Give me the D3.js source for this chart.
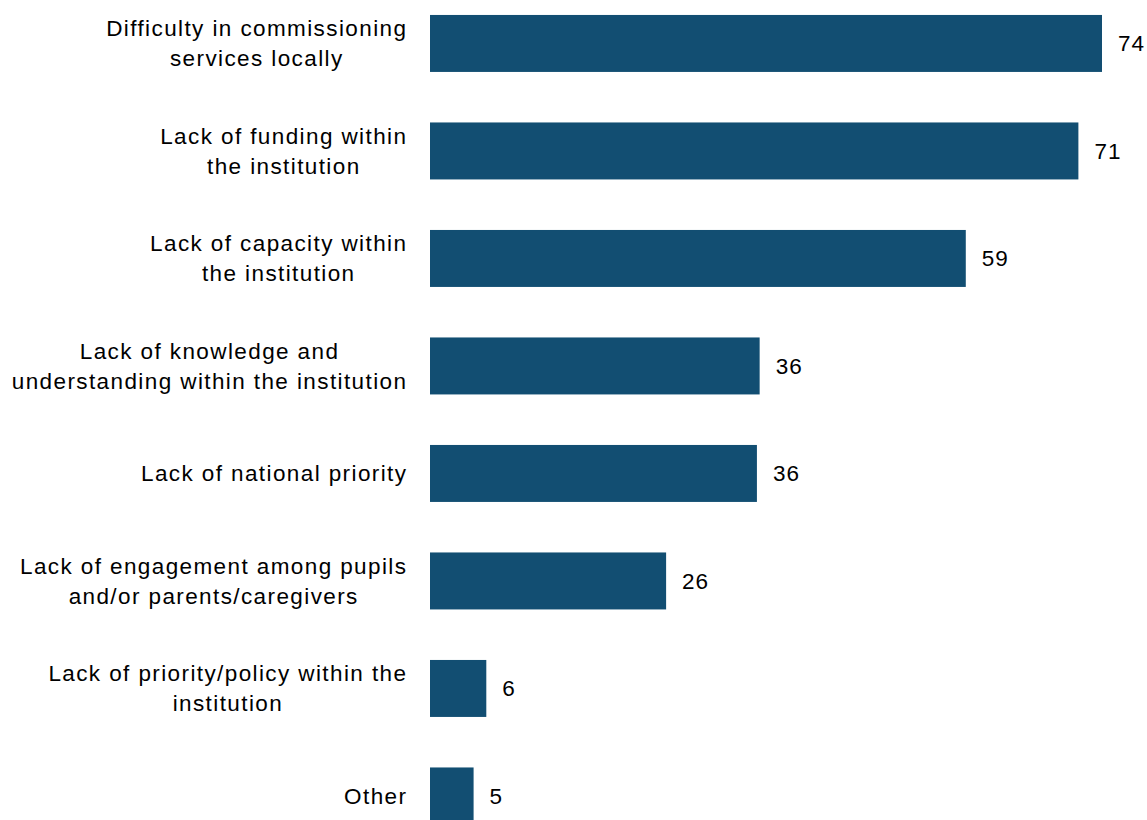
<!DOCTYPE html>
<html>
<head>
<meta charset="utf-8">
<script src="https://cdn.jsdelivr.net/npm/d3@7"></script>
<style>
  html, body { margin: 0; padding: 0; background: #fff; }
  svg { display: block; }
  text { font-family: "Liberation Sans", Arial, sans-serif; fill: #000; }
</style>
</head>
<body>
<svg id="chart" width="1147" height="820"></svg>
<script>
const categories = [
  "Difficulty in commissioning services locally",
  "Lack of funding within the institution",
  "Lack of capacity within the institution",
  "Lack of knowledge and understanding within the institution",
  "Lack of national priority",
  "Lack of engagement among pupils and/or parents/caregivers",
  "Lack of priority/policy within the institution",
  "Other"
];
const categoryLines = [
  ["Difficulty in commissioning", "services locally"],
  ["Lack of funding within", "the institution"],
  ["Lack of capacity within", "the institution"],
  ["Lack of knowledge and", "understanding within the institution"],
  ["Lack of national priority"],
  ["Lack of engagement among pupils", "and/or parents/caregivers"],
  ["Lack of priority/policy within the", "institution"],
  ["Other"]
];
const values = [74, 71.4, 59, 36.3, 36, 26, 6.2, 4.8];

const W = 1147, H = 820;
const svg = d3.select("#chart");
const fontSize = 22.5;
const letterSp = 1.4;
const lineH = 30;
const barColor = "#124e72";

const x = d3.scaleLinear().domain([0, 74]).range([430, 1102]);
const y = d3.scaleBand().domain(categories).range([-10.3, 849.7])
  .paddingInner(0.47).paddingOuter(0.235);

const data = categories.map((c, i) => ({ c, v: values[i], lines: categoryLines[i] }));

svg.selectAll("rect.bar").data(data).join("rect")
  .attr("class", "bar")
  .attr("x", x(0))
  .attr("y", d => y(d.c))
  .attr("width", d => x(d.v) - x(0))
  .attr("height", y.bandwidth())
  .attr("fill", barColor);

svg.selectAll("text.val").data(data).join("text")
  .attr("class", "val")
  .attr("x", d => x(d.v) + 16)
  .attr("y", d => y(d.c) + y.bandwidth() / 2)
  .attr("dy", "0.34em")
  .attr("font-size", fontSize)
  .attr("letter-spacing", 1)
  .text(d => d3.format(".0f")(d.v));

const rightEdge = 406;
const groups = svg.selectAll("g.lab").data(data).join("g").attr("class", "lab");
groups.each(function(d) {
  const g = d3.select(this);
  const cy = y(d.c) + y.bandwidth() / 2;
  const n = d.lines.length;
  const texts = d.lines.map((ln, i) => g.append("text")
    .attr("font-size", fontSize)
    .attr("letter-spacing", letterSp)
    .attr("text-anchor", "start")
    .attr("y", cy + (i - (n - 1) / 2) * lineH)
    .attr("dy", "0.34em")
    .text(ln));
  const widths = texts.map(t => t.node().getComputedTextLength() - letterSp);
  const maxW = d3.max(widths);
  const cx = rightEdge - maxW / 2;
  texts.forEach((t, i) => t.attr("x", cx - widths[i] / 2));
});
</script>
</body>
</html>
